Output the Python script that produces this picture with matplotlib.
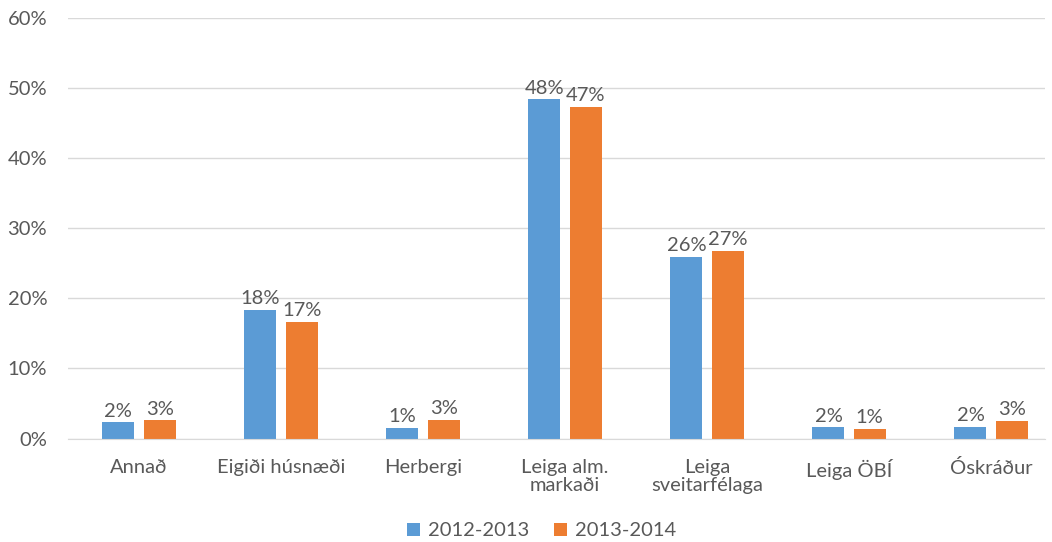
import numpy as np
import matplotlib.pyplot as plt

categories = ['Annað', 'Eigiði húsnæði', 'Herbergi', 'Leiga alm.\nmarkaði',
              'Leiga\nsveitarfélaga', 'Leiga ÖBÍ', 'Óskráður']
series_names = ['2012-2013', '2013-2014']
values_2012 = [2.3, 18.4, 1.5, 48.4, 25.9, 1.6, 1.7]
values_2013 = [2.6, 16.6, 2.7, 47.3, 26.8, 1.4, 2.5]
labels_2012 = ['2%', '18%', '1%', '48%', '26%', '2%', '2%']
labels_2013 = ['3%', '17%', '3%', '47%', '27%', '1%', '3%']

blue = '#5b9bd5'
orange = '#ed7d31'
grey = '#595959'
grid_col = '#d9d9d9'
fs = 14.5

plt.rcParams['font.family'] = ['Lato', 'DejaVu Sans']

fig = plt.figure(figsize=(10.52, 5.42), dpi=100)
ax = fig.add_axes([68 / 1052, 1 - 438.5 / 542, (1045 - 68) / 1052, (438.5 - 18) / 542])

x = np.arange(len(categories))
w = 0.226
off = 0.145
b1 = ax.bar(x - off, values_2012, w, color=blue, label=series_names[0], zorder=3)
b2 = ax.bar(x + off, values_2013, w, color=orange, label=series_names[1], zorder=3)

for bars, labs in ((b1, labels_2012), (b2, labels_2013)):
    for rect, lab in zip(bars, labs):
        ax.annotate(lab, (rect.get_x() + rect.get_width() / 2, rect.get_height()),
                    xytext=(0, 2), textcoords='offset points', ha='center', va='bottom',
                    fontsize=fs, color=grey)

ax.set_xlim(-0.5, 6.38)
ax.set_ylim(0, 60)
ax.set_yticks(range(0, 61, 10))
ax.set_yticklabels([f'{v}%' for v in range(0, 61, 10)])
ax.set_xticks(x)
ax.set_xticklabels(categories, linespacing=1.05)
ax.tick_params(axis='both', length=0, labelsize=fs, colors=grey)
ax.tick_params(axis='x', pad=15)
ax.tick_params(axis='y', pad=15)
ax.yaxis.grid(True, color=grid_col, linewidth=1, zorder=0)
for s in ('top', 'right', 'left'):
    ax.spines[s].set_visible(False)
ax.spines['bottom'].set_color(grid_col)
ax.spines['bottom'].set_zorder(4)

leg = fig.legend(loc='center', bbox_to_anchor=(0.515, 1 - 531 / 542), ncol=2, frameon=False,
                 fontsize=fs, handlelength=0.65, handleheight=0.65, columnspacing=1.2,
                 handletextpad=0.4)
for t in leg.get_texts():
    t.set_color(grey)

fig.savefig('out.png', dpi=100)
